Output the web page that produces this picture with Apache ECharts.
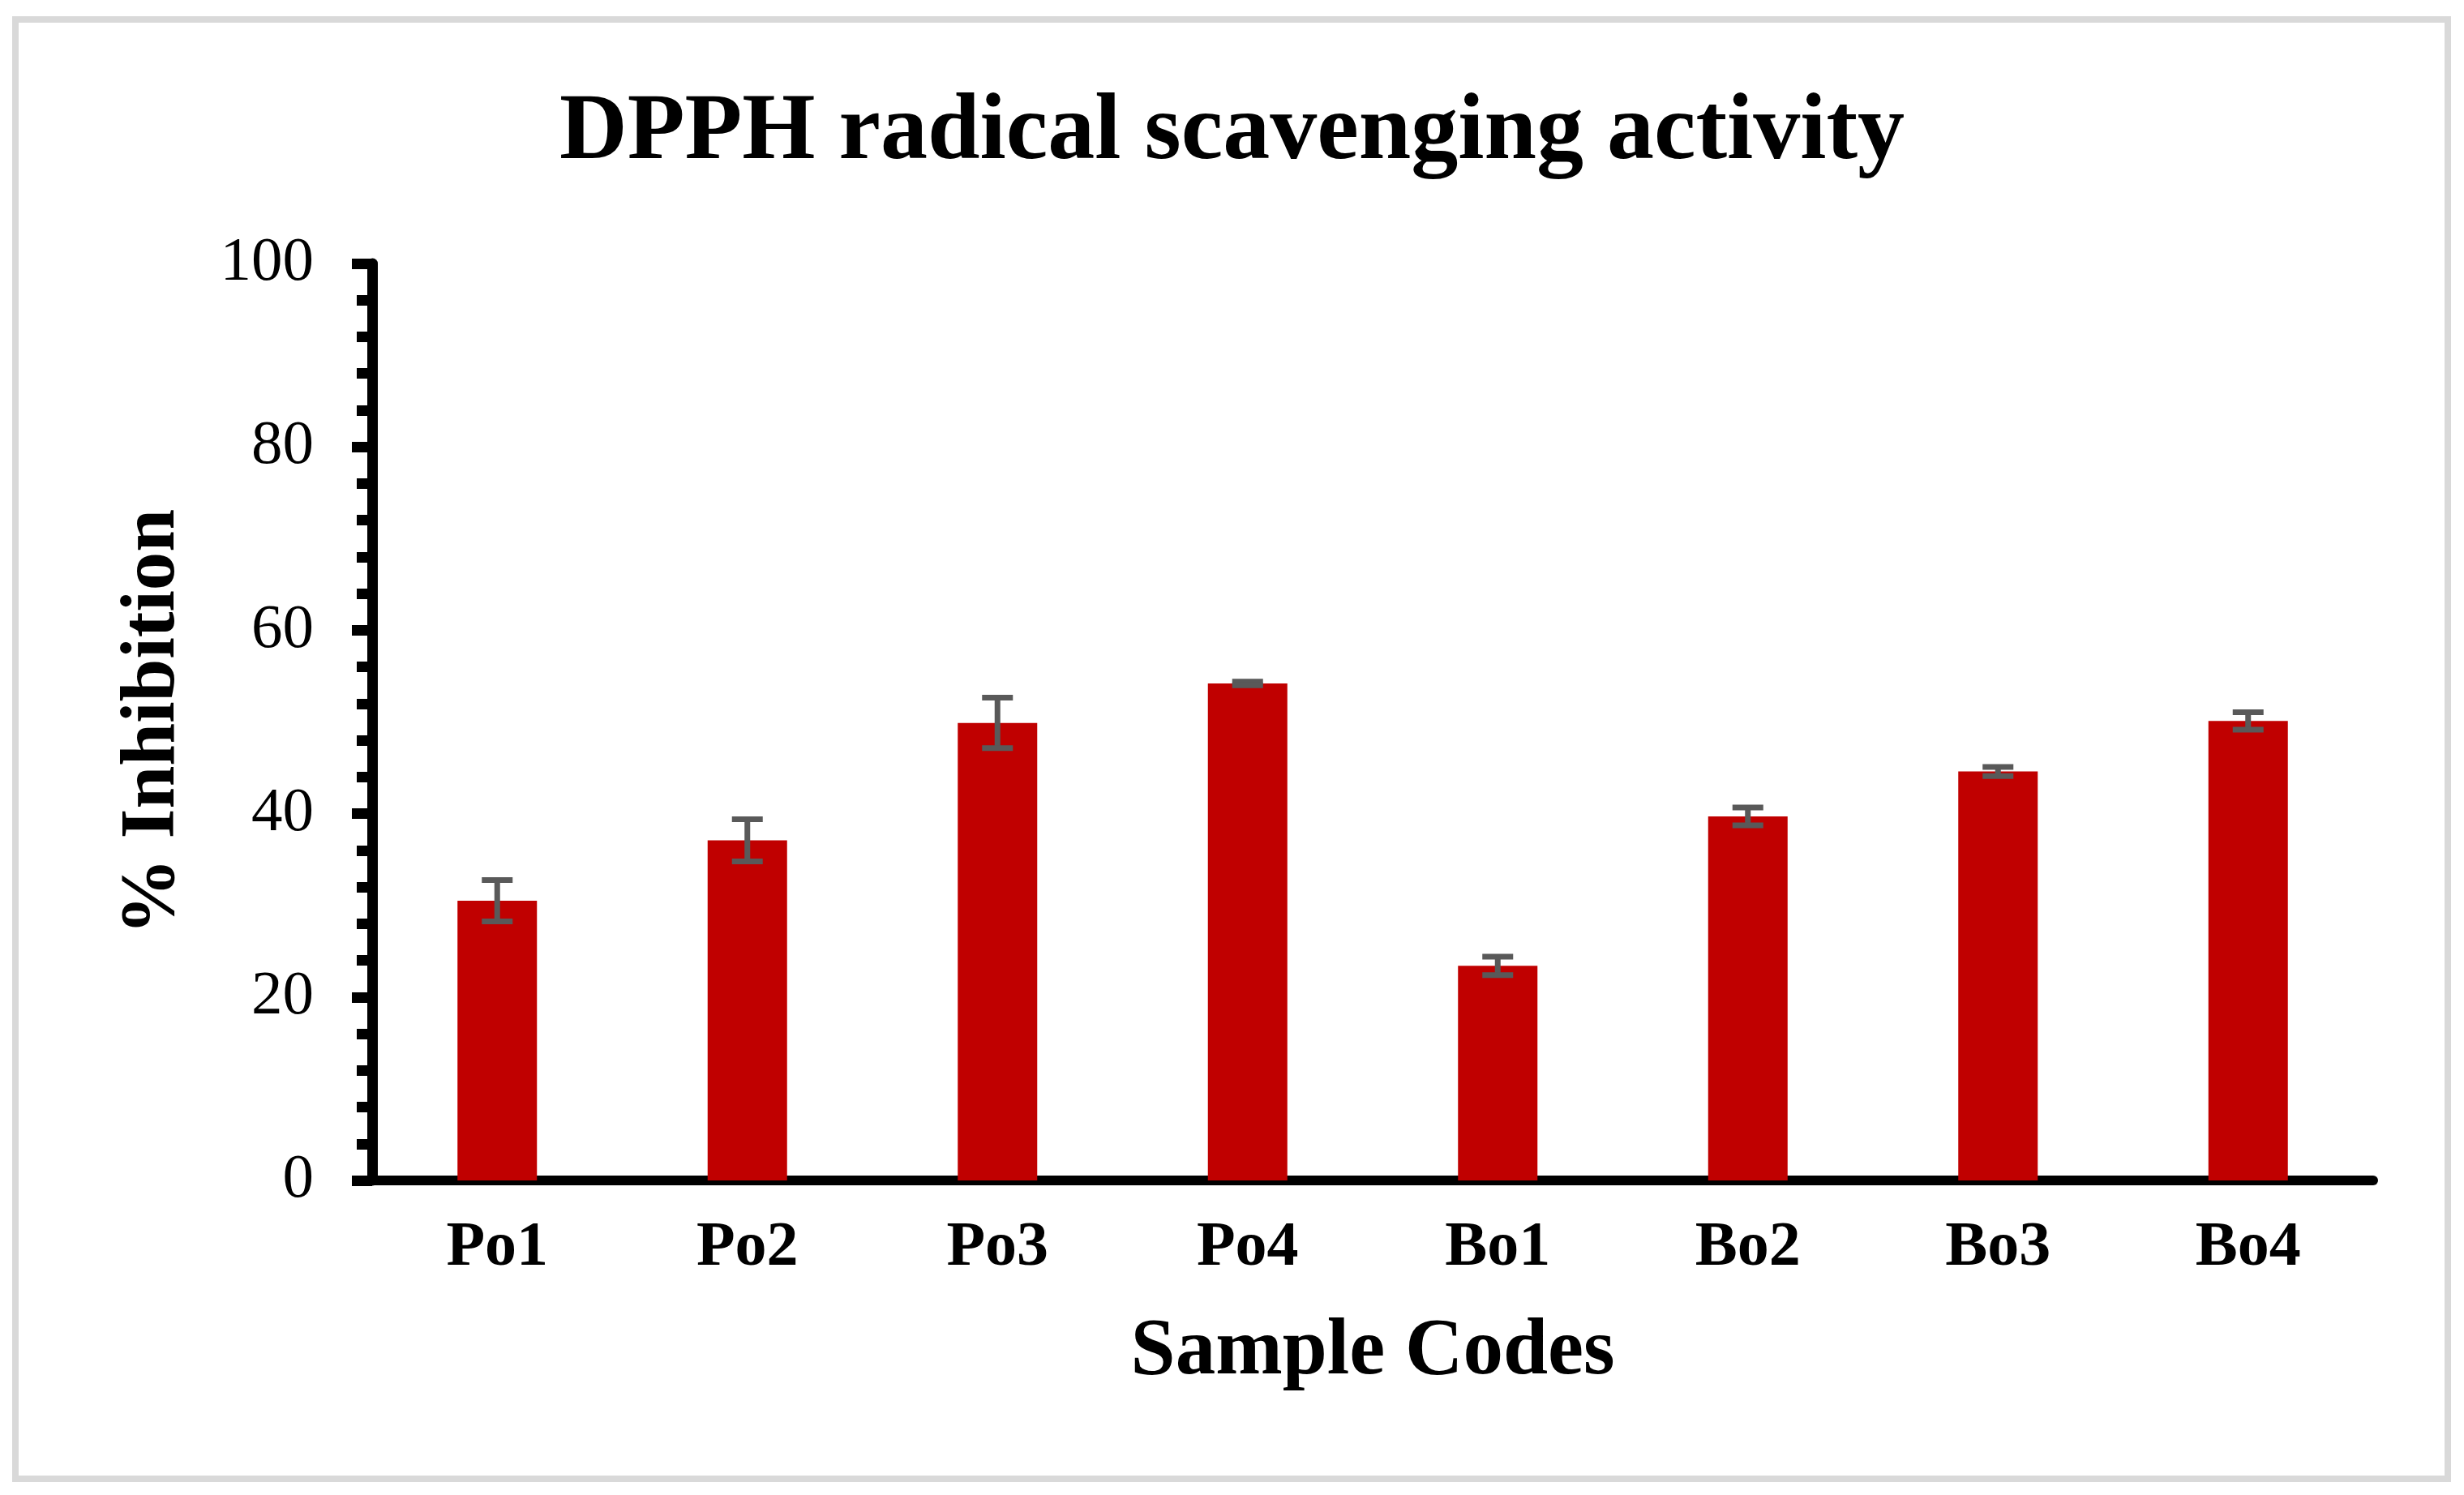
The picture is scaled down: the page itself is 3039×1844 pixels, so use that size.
<!DOCTYPE html>
<html>
<head>
<meta charset="utf-8">
<script src="https://cdn.jsdelivr.net/npm/echarts@6/dist/echarts.min.js"></script>
<style>
html,body{margin:0;padding:0;background:#fff;}
#c{width:3039px;height:1844px;}
</style>
</head>
<body>
<div id="c"></div>
<script>
const categories = ['Po1','Po2','Po3','Po4','Bo1','Bo2','Bo3','Bo4'];
const inhibition = [30.5, 37.1, 49.9, 54.2, 23.4, 39.7, 44.6, 50.1];
const errors = [2.25, 2.3, 2.75, 0.2, 1.0, 0.97, 0.5, 0.95];
const yTicks = [0, 20, 40, 60, 80, 100];

const FONT = "'Liberation Serif', 'Times New Roman', serif";
const errData = inhibition.map((v, i) => [i, v - errors[i], v + errors[i]]);

const chart = echarts.init(document.getElementById('c'));
chart.setOption({
  backgroundColor: '#ffffff',
  animation: false,
  title: {
    text: 'DPPH radical scavenging activity',
    left: 'center',
    top: 102,
    textStyle: { fontFamily: FONT, fontWeight: 'bold', fontSize: 116, color: '#000' }
  },
  graphic: [{
    type: 'rect',
    shape: { x: 19, y: 24, width: 3000, height: 1800 },
    style: { fill: 'none', stroke: '#d9d9d9', lineWidth: 8 },
    silent: true
  }],
  grid: { left: 459, right: 112, top: 325, bottom: 388 },
  xAxis: {
    type: 'category',
    data: categories,
    name: 'Sample Codes',
    nameLocation: 'middle',
    nameGap: 163,
    nameTextStyle: { fontFamily: FONT, fontWeight: 'bold', fontSize: 99, color: '#000' },
    axisLine: { lineStyle: { color: '#000', width: 12 } },
    axisTick: { show: false },
    axisLabel: { fontFamily: FONT, fontWeight: 'bold', fontSize: 78, color: '#000', margin: 45 },
    splitLine: { show: false }
  },
  yAxis: {
    type: 'value',
    min: yTicks[0],
    max: yTicks[yTicks.length - 1],
    interval: 20,
    name: '% Inhibition',
    nameLocation: 'middle',
    nameGap: 222,
    nameRotate: 90,
    nameTextStyle: { fontFamily: FONT, fontWeight: 'bold', fontSize: 95, color: '#000' },
    axisLine: { show: true, lineStyle: { color: '#000', width: 13 } },
    axisTick: { show: true, length: 25, lineStyle: { color: '#000', width: 13 } },
    minorTick: { show: true, splitNumber: 5, length: 19, lineStyle: { color: '#000', width: 13 } },
    axisLabel: { fontFamily: FONT, fontSize: 77, color: '#000', margin: 72 },
    splitLine: { show: false }
  },
  series: [
    {
      type: 'bar',
      data: inhibition,
      barWidth: 98,
      itemStyle: { color: '#C00000' },
      z: 2
    },
    {
      type: 'custom',
      data: errData,
      z: 5,
      renderItem: function (params, api) {
        const x = api.value(0);
        const lo = api.coord([x, api.value(1)]);
        const hi = api.coord([x, api.value(2)]);
        const hw = 19;
        const style = { stroke: '#595959', lineWidth: 7 };
        return {
          type: 'group',
          children: [
            { type: 'line', shape: { x1: lo[0], y1: lo[1], x2: hi[0], y2: hi[1] }, style: style },
            { type: 'line', shape: { x1: hi[0] - hw, y1: hi[1], x2: hi[0] + hw, y2: hi[1] }, style: style },
            { type: 'line', shape: { x1: lo[0] - hw, y1: lo[1], x2: lo[0] + hw, y2: lo[1] }, style: style }
          ]
        };
      }
    }
  ]
});
</script>
</body>
</html>
